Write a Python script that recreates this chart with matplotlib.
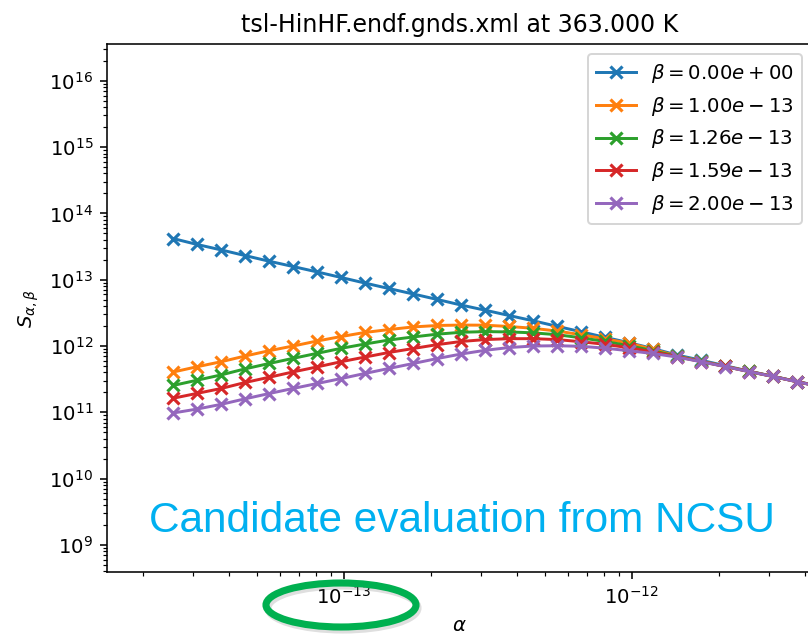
import numpy as np
import matplotlib.pyplot as plt
from matplotlib.patches import Ellipse
from matplotlib.ticker import LogLocator, NullFormatter

# alpha grid and the beta values of the plotted cuts
alpha = [2.55e-14, 3.09e-14, 3.75e-14, 4.54e-14, 5.50e-14, 6.66e-14, 8.07e-14,
         9.78e-14, 1.18e-13, 1.43e-13, 1.74e-13, 2.11e-13, 2.55e-13, 3.09e-13,
         3.75e-13, 4.54e-13, 5.50e-13, 6.66e-13, 8.07e-13, 9.78e-13, 1.18e-12,
         1.43e-12, 1.74e-12, 2.11e-12, 2.55e-12, 3.09e-12, 3.75e-12, 4.54e-12]
beta = [0.0, 1.00e-13, 1.26e-13, 1.59e-13, 2.00e-13]

# S(alpha, beta) for each beta
s_beta0 = [4.18e13, 3.40e13, 2.81e13, 2.31e13, 1.90e13, 1.58e13, 1.31e13,
           1.08e13, 8.92e12, 7.37e12, 6.09e12, 5.03e12, 4.15e12, 3.47e12,
           2.88e12, 2.40e12, 1.98e12, 1.64e12, 1.35e12, 1.12e12, 9.17e11,
           7.32e11, 6.09e11, 5.03e11, 4.17e11, 3.49e11, 2.91e11, 2.45e11]
s_beta1 = [4.05e11, 4.87e11, 5.80e11, 7.07e11, 8.50e11, 1.00e12, 1.19e12,
           1.39e12, 1.60e12, 1.77e12, 1.94e12, 2.04e12, 2.07e12, 2.06e12,
           1.97e12, 1.85e12, 1.68e12, 1.48e12, 1.28e12, 1.10e12, 8.92e11,
           7.07e11, 5.90e11, 4.94e11, 4.14e11, 3.49e11, 2.89e11, 2.43e11]
s_beta2 = [2.54e11, 3.05e11, 3.67e11, 4.53e11, 5.45e11, 6.52e11, 7.76e11,
           9.23e11, 1.07e12, 1.23e12, 1.37e12, 1.51e12, 1.61e12, 1.65e12,
           1.63e12, 1.58e12, 1.48e12, 1.33e12, 1.17e12, 1.01e12, 8.52e11,
           6.99e11, 5.86e11, 4.92e11, 4.13e11, 3.48e11, 2.89e11, 2.43e11]
s_beta3 = [1.63e11, 1.93e11, 2.29e11, 2.82e11, 3.38e11, 4.07e11, 4.84e11,
           5.80e11, 6.80e11, 7.98e11, 9.17e11, 1.05e12, 1.17e12, 1.25e12,
           1.29e12, 1.29e12, 1.25e12, 1.16e12, 1.06e12, 9.39e11, 8.18e11,
           6.92e11, 5.82e11, 4.91e11, 4.12e11, 3.47e11, 2.89e11, 2.43e11]
s_beta4 = [9.76e10, 1.12e11, 1.32e11, 1.60e11, 1.92e11, 2.29e11, 2.72e11,
           3.23e11, 3.85e11, 4.58e11, 5.45e11, 6.48e11, 7.57e11, 8.61e11,
           9.49e11, 1.00e12, 1.01e12, 9.90e11, 9.27e11, 8.47e11, 7.71e11,
           6.83e11, 5.78e11, 4.89e11, 4.11e11, 3.47e11, 2.88e11, 2.42e11]

curves = [s_beta0, s_beta1, s_beta2, s_beta3, s_beta4]

dpi = 142
fig = plt.figure(figsize=(808 / dpi, 636 / dpi), dpi=dpi)
ax = fig.add_axes([0.1324, 0.1006, 0.8726, 0.8302])

for b, s in zip(beta, curves):
    ax.plot(alpha, s, marker="x", markeredgewidth=1.6, label=f"$\\beta={b:.2e}$")

ax.set_xscale("log")
ax.set_yscale("log")
ax.set_xlim(1.503e-14, 4.22e-12)
ax.set_ylim(3.9e8, 3.59e16)
ax.yaxis.set_major_locator(LogLocator(base=10, numticks=20))
ax.yaxis.set_minor_locator(LogLocator(base=10, subs=np.arange(2, 10), numticks=100))
ax.xaxis.set_minor_locator(LogLocator(base=10, subs=np.arange(2, 10), numticks=100))
ax.xaxis.set_minor_formatter(NullFormatter())
ax.yaxis.set_minor_formatter(NullFormatter())

ax.set_title("tsl-HinHF.endf.gnds.xml at 363.000 K")
ax.set_xlabel(r"$\alpha$")
ax.set_ylabel(r"$S_{\alpha,\beta}$")
ax.legend(loc="upper right")

# slide overlay: caption and the ring around the 1e-13 tick
fig.text(149 / 808, (636 - 532) / 636, "Candidate evaluation from NCSU",
         color="#00B0F0", fontsize=21.5, family="Liberation Sans", va="baseline")
shadow = Ellipse((343 / 808, (636 - 608) / 636), 150 / 808, 44 / 636,
                 transform=fig.transFigure, fill=False, edgecolor="gray",
                 linewidth=3.6, alpha=0.25)
ring = Ellipse((341 / 808, (636 - 605) / 636), 150 / 808, 44 / 636,
               transform=fig.transFigure, fill=False, edgecolor="#00B050",
               linewidth=3.6)
fig.add_artist(shadow)
fig.add_artist(ring)

fig.savefig("out.png", dpi=dpi)
